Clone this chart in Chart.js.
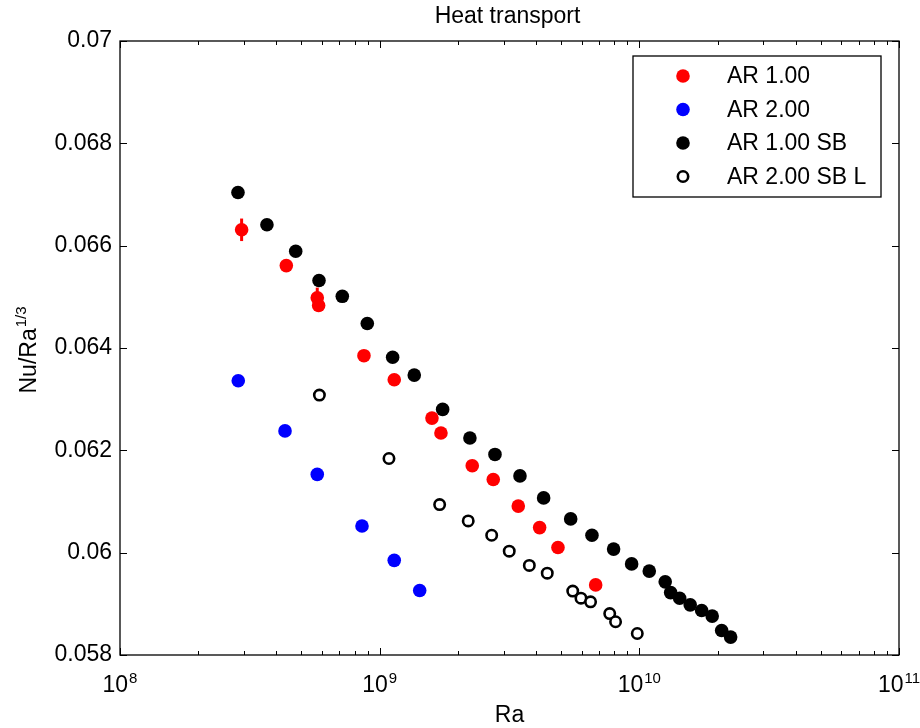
<!DOCTYPE html>
<html>
<head>
<meta charset="utf-8">
<title>Heat transport</title>
<script src="https://cdn.jsdelivr.net/npm/chart.js@4"></script>
<style>
  html, body { margin: 0; padding: 0; background: #fff; }
  canvas { display: block; }
</style>
</head>
<body>
<canvas id="myChart" width="920" height="728"></canvas>
<script>
// AR 1.00 (with error bars on Nu/Ra^1/3)
var raRed = [2.94e8, 4.37e8, 5.75e8, 5.82e8, 8.70e8, 1.138e9, 1.59e9, 1.722e9, 2.273e9, 2.738e9, 3.418e9, 4.131e9, 4.86e9, 6.79e9];
var nuRed = [0.06631, 0.06561, 0.06498, 0.06483, 0.06385, 0.06338, 0.06263, 0.06234, 0.06170, 0.06143, 0.06091, 0.06049, 0.06010, 0.05937];
var errRed = [0.00022, 0, 0.0002, 0, 0, 0, 0, 0, 0, 0, 0, 0, 0, 0];

// AR 2.00
var raBlue = [2.854e8, 4.32e8, 5.75e8, 8.55e8, 1.138e9, 1.426e9];
var nuBlue = [0.06336, 0.06238, 0.06153, 0.06052, 0.05985, 0.05926];

// AR 1.00 SB
var raSB = [2.847e8, 3.68e8, 4.75e8, 5.84e8, 7.18e8, 8.96e8, 1.122e9, 1.359e9, 1.748e9, 2.226e9, 2.78e9, 3.47e9, 4.28e9,
            5.44e9, 6.57e9, 7.96e9, 9.34e9, 1.092e10, 1.258e10, 1.32e10, 1.43e10, 1.57e10, 1.738e10, 1.908e10, 2.075e10, 2.247e10];
var nuSB = [0.06704, 0.06641, 0.06589, 0.06532, 0.06501, 0.06448, 0.06382, 0.06347, 0.06280, 0.06224, 0.06192, 0.06150, 0.06107,
            0.06066, 0.06034, 0.06007, 0.05978, 0.05964, 0.05943, 0.05922, 0.05911, 0.05898, 0.05887, 0.05876, 0.05848, 0.05835];

// AR 2.00 SB L
var raSBL = [5.86e8, 1.086e9, 1.702e9, 2.193e9, 2.70e9, 3.155e9, 3.77e9, 4.42e9, 5.54e9, 5.96e9, 6.49e9, 7.69e9, 8.10e9, 9.82e9];
var nuSBL = [0.06308, 0.06184, 0.06094, 0.06062, 0.06034, 0.06003, 0.05975, 0.05960, 0.05925, 0.05911, 0.05904, 0.05881, 0.05865, 0.05842];

// axis ticks
var xDecades = [8, 9, 10, 11];
var yTicks = [0.058, 0.06, 0.062, 0.064, 0.066, 0.068, 0.07];
var yTickLabels = ["0.058", "0.06", "0.062", "0.064", "0.066", "0.068", "0.07"];

var seriesNames = ["AR 1.00", "AR 2.00", "AR 1.00 SB", "AR 2.00 SB L"];

var FONT = "'Liberation Sans', Arial, Helvetica, sans-serif";
var BIG = "23px " + FONT;
var SUP = "15px " + FONT;

function pts(xs, ys) {
  return xs.map(function (x, i) { return { x: x, y: ys[i] }; });
}

// error bars, box, inward ticks, labels and the boxed legend
var framePlugin = {
  id: "frame",
  beforeDatasetsDraw: function (chart) {
    var c = chart.ctx, xs = chart.scales.x, ys = chart.scales.y;
    c.save();
    c.strokeStyle = "rgb(255,0,0)";
    c.lineWidth = 3;
    raRed.forEach(function (ra, i) {
      if (!errRed[i]) return;
      var px = xs.getPixelForValue(ra);
      c.beginPath();
      c.moveTo(px, ys.getPixelForValue(nuRed[i] - errRed[i]));
      c.lineTo(px, ys.getPixelForValue(nuRed[i] + errRed[i]));
      c.stroke();
    });
    c.restore();
  },
  afterDraw: function (chart) {
    var c = chart.ctx, a = chart.chartArea, xs = chart.scales.x, ys = chart.scales.y;
    c.save();
    c.strokeStyle = "#000";
    c.lineWidth = 1.3;
    c.strokeRect(a.left, a.top, a.right - a.left, a.bottom - a.top);

    // x ticks (log decades + minor)
    c.lineWidth = 1;
    c.beginPath();
    xDecades.forEach(function (d) {
      var px = Math.round(xs.getPixelForValue(Math.pow(10, d))) + 0.5;
      c.moveTo(px, a.bottom); c.lineTo(px, a.bottom - 7);
      c.moveTo(px, a.top); c.lineTo(px, a.top + 7);
      if (d < 11) {
        for (var m = 2; m <= 9; m++) {
          var mx = Math.round(xs.getPixelForValue(m * Math.pow(10, d))) + 0.5;
          c.moveTo(mx, a.bottom); c.lineTo(mx, a.bottom - 4);
          c.moveTo(mx, a.top); c.lineTo(mx, a.top + 4);
        }
      }
    });
    // y ticks
    yTicks.forEach(function (v) {
      var py = Math.round(ys.getPixelForValue(v)) + 0.5;
      c.moveTo(a.left, py); c.lineTo(a.left + 7, py);
      c.moveTo(a.right, py); c.lineTo(a.right - 7, py);
    });
    c.stroke();

    c.fillStyle = "#000";
    // y tick labels
    c.font = BIG;
    c.textAlign = "right";
    c.textBaseline = "middle";
    yTicks.forEach(function (v, i) {
      c.fillText(yTickLabels[i], a.left - 8, ys.getPixelForValue(v));
    });

    // x tick labels 10^n
    c.textBaseline = "alphabetic";
    c.textAlign = "left";
    xDecades.forEach(function (d) {
      var px = xs.getPixelForValue(Math.pow(10, d));
      c.font = BIG;
      var wb = c.measureText("10").width;
      c.font = SUP;
      var we = c.measureText(String(d)).width;
      var x0 = px - (wb + we + 1) / 2;
      c.font = BIG;
      c.fillText("10", x0, a.bottom + 37);
      c.font = SUP;
      c.fillText(String(d), x0 + wb + 1, a.bottom + 28);
    });

    // axis titles and title
    var cx = (a.left + a.right) / 2;
    c.textAlign = "center";
    c.font = BIG;
    c.fillText("Ra", cx, 722);
    c.fillText("Heat transport", cx - 2, 23);

    c.save();
    c.translate(36, (a.top + a.bottom) / 2 + 2);
    c.rotate(-Math.PI / 2);
    c.font = BIG;
    var wn = c.measureText("Nu/Ra").width;
    c.font = SUP;
    var ws = c.measureText("1/3").width;
    var s0 = -(wn + ws + 1) / 2;
    c.textAlign = "left";
    c.font = BIG;
    c.fillText("Nu/Ra", s0, 0);
    c.font = SUP;
    c.fillText("1/3", s0 + wn + 1, -10);
    c.restore();

    // legend
    var lx = a.right - 266, ly = a.top + 15, lw = 248, lh = 141;
    c.fillStyle = "#fff";
    c.fillRect(lx, ly, lw, lh);
    c.lineWidth = 1.3;
    c.strokeStyle = "#000";
    c.strokeRect(lx, ly, lw, lh);
    chart.data.datasets.forEach(function (ds, i) {
      var ry = ly + 20 + i * 33.5;
      c.beginPath();
      c.arc(lx + 50, ry, ds.pointRadius, 0, Math.PI * 2);
      c.fillStyle = ds.backgroundColor;
      c.fill();
      if (ds.borderWidth) {
        c.lineWidth = ds.borderWidth;
        c.strokeStyle = ds.borderColor;
        c.stroke();
      }
      c.fillStyle = "#000";
      c.font = BIG;
      c.textAlign = "left";
      c.textBaseline = "middle";
      c.fillText(ds.label, lx + 94, ry + 1);
    });
    c.restore();
  }
};

new Chart("myChart", {
  type: "scatter",
  data: {
    datasets: [{
      label: seriesNames[0],
      data: pts(raRed, nuRed),
      backgroundColor: "rgb(255,0,0)",
      borderColor: "rgb(255,0,0)",
      borderWidth: 0,
      pointRadius: 6.8
    }, {
      label: seriesNames[1],
      data: pts(raBlue, nuBlue),
      backgroundColor: "rgb(0,0,255)",
      borderColor: "rgb(0,0,255)",
      borderWidth: 0,
      pointRadius: 6.8
    }, {
      label: seriesNames[2],
      data: pts(raSB, nuSB),
      backgroundColor: "#000",
      borderColor: "#000",
      borderWidth: 0,
      pointRadius: 6.8
    }, {
      label: seriesNames[3],
      data: pts(raSBL, nuSBL),
      backgroundColor: "#fff",
      borderColor: "#000",
      borderWidth: 2.6,
      pointRadius: 5.2
    }]
  },
  options: {
    responsive: false,
    animation: false,
    events: [],
    layout: { padding: { left: 120, top: 41, right: 21, bottom: 73 } },
    plugins: {
      legend: { display: false },
      tooltip: { enabled: false }
    },
    scales: {
      x: { type: "logarithmic", min: 1e8, max: 1e11, display: false },
      y: { type: "linear", min: 0.058, max: 0.07, display: false }
    }
  },
  plugins: [framePlugin]
});
</script>
</body>
</html>
